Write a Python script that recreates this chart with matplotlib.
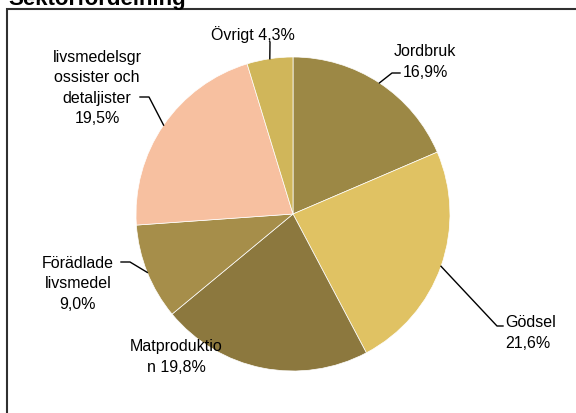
import numpy as np
import matplotlib
matplotlib.use("Agg")
import matplotlib.pyplot as plt
from matplotlib.patches import Rectangle

plt.rcParams["font.family"] = ["Liberation Sans", "DejaVu Sans"]

# data
sectors = ["Jordbruk", "Gödsel", "Matproduktion", "Förädlade livsmedel",
           "livsmedelsgrossister och detaljister", "Övrigt"]
shares = [16.9, 21.6, 19.8, 9.0, 19.5, 4.3]
label_texts = ["Jordbruk\n16,9%", "Gödsel\n21,6%", "Matproduktio\nn 19,8%",
               "Förädlade\nlivsmedel\n9,0%",
               "livsmedelsgr\nossister och\ndetaljister\n19,5%", "Övrigt 4,3%"]
colors = ["#9c8845", "#e0c263", "#8c783e", "#a68e4a", "#f7c0a0", "#d0b65a"]

W, H = 576, 414
CX, CY, R = 293, 215, 157  # pie centre / radius in pixels


def px(x, y):
    # pixel position -> pie data units
    return (x - CX) / R, -(y - CY) / R


# label layout in pixels: text anchor, alignment, leader elbow, leader end
layout = [
    dict(xy=(425, 62), ha="center", leader=[(392, 74), (400, 74)]),
    dict(xy=(505, 333), ha="left", leader=[(497, 327), (503, 327)]),
    dict(xy=(176, 357), ha="center", leader=None),
    dict(xy=(78, 284), ha="center", leader=[(130, 263), (121, 263)]),
    dict(xy=(97, 88), ha="center", leader=[(149, 98), (140, 98)]),
    dict(xy=(253, 35), ha="center", leader=[(270, 43)]),
]

fig = plt.figure(figsize=(W / 100, H / 100), dpi=100)
ax = fig.add_axes([0, 0, 1, 1])

wedges, _ = ax.pie(shares, colors=colors, startangle=90, counterclock=False,
                   radius=1.0, center=(0, 0), frame=True,
                   wedgeprops=dict(linewidth=0.5, edgecolor="white"))
ax.set_xlim(-CX / R, (W - CX) / R)
ax.set_ylim(-(H - CY) / R, CY / R)
ax.set_aspect("equal")
ax.axis("off")

for w, txt, lay in zip(wedges, label_texts, layout):
    mid = np.deg2rad((w.theta1 + w.theta2) / 2)
    if lay["leader"] is not None:
        pts = [(np.cos(mid), np.sin(mid))] + [px(*p) for p in lay["leader"]]
        xs, ys = zip(*pts)
        ax.plot(xs, ys, color="black", lw=1.0)
    tx, ty = px(*lay["xy"])
    ax.text(tx, ty, txt, ha=lay["ha"], va="center", fontsize=11.5,
            linespacing=1.42, color="black")

# chart border and clipped title
fig.patches.append(Rectangle((7 / W, -0.1), 2, 1.1 - 10 / H, transform=fig.transFigure,
                             fill=False, lw=1.5, ec="#303030", figure=fig))
fig.text(8 / W, 1 - 5 / H, "Sektorfördelning", ha="left", va="baseline",
         fontsize=16, fontweight="bold")

fig.savefig("out.png", dpi=100)
